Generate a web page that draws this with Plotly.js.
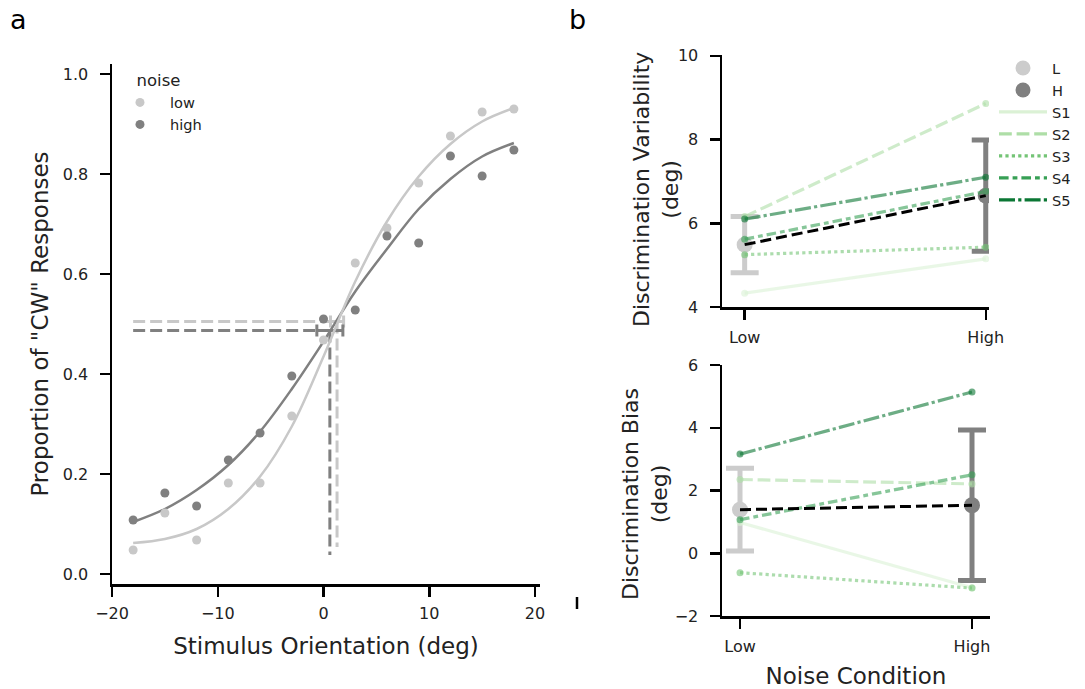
<!DOCTYPE html>
<html><head><meta charset="utf-8">
<script src="https://cdn.plot.ly/plotly-3.0.1.min.js"></script>
<style>html,body{margin:0;padding:0;background:#fff;} #chart{width:1085px;height:689px;}</style>
</head><body><div id="chart"></div>
<script>
// ---------- Panel a data ----------
const orientations = [-18, -15, -12, -9, -6, -3, 0, 3, 6, 9, 12, 15, 18];
const propLow  = [0.048, 0.122, 0.068, 0.182, 0.182, 0.316, 0.468, 0.622, 0.692, 0.782, 0.876, 0.924, 0.930];
const propHigh = [0.108, 0.162, 0.136, 0.228, 0.282, 0.396, 0.510, 0.528, 0.676, 0.662, 0.836, 0.796, 0.848];
const fitX     = [-18, -15, -12, -9, -6, -3, 0, 3, 6, 9, 12, 15, 18];
const fitLow   = [0.062, 0.070, 0.090, 0.130, 0.195, 0.295, 0.435, 0.585, 0.705, 0.795, 0.860, 0.905, 0.932];
const fitHigh  = [0.104, 0.130, 0.168, 0.218, 0.285, 0.370, 0.465, 0.565, 0.650, 0.730, 0.790, 0.835, 0.862];
const noiseLevels = ['low', 'high'];
const pseX     = [1.28, 0.60];
const pseErr   = [0.62, 1.23];
const pseLevel = [0.505, 0.487];
const pseFloor = [0.054, 0.038];
const crossStart = -18;

// ---------- Panel b data ----------
const conditions = ['Low', 'High'];
const condX = [0, 1];
const subjects = ['S1', 'S2', 'S3', 'S4', 'S5'];
const variability = [
  [4.33, 5.15],
  [6.16, 8.86],
  [5.25, 5.43],
  [5.62, 6.76],
  [6.10, 7.10]
];
const varMean = [5.49, 6.66];
const varErr  = [0.67, 1.33];
const bias = [
  [0.98, -1.10],
  [2.35, 2.21],
  [-0.62, -1.11],
  [1.07, 2.50],
  [3.16, 5.14]
];
const biasMean = [1.39, 1.53];
const biasErr  = [1.32, 2.40];

// ---------- styles ----------
const F = 'DejaVu Sans';
const grayColors = ['#c8c8c8', '#808080'];
const condColors = ['#cccccc', '#808080'];
const subjRGB = [[219,241,213],[174,222,167],[116,196,118],[55,160,85],[11,119,52]];
const subjDash = ['solid', '12.8px,4.8px', '3.2px,3.2px', '9.6px,4px,4.8px,4px', '16px,3.2px,3.2px,3.2px'];
const rgba = (c, a) => `rgba(${c[0]},${c[1]},${c[2]},${a})`;

const traces = [];

// Panel a: crosshair
for (let i = 0; i < 2; i++) {
  traces.push({x: [crossStart, pseX[i]], y: [pseLevel[i], pseLevel[i]], mode: 'lines', xaxis: 'x', yaxis: 'y',
    line: {color: grayColors[i], width: 3, dash: '12px,5px'}, showlegend: false, hoverinfo: 'skip'});
  traces.push({x: [pseX[i], pseX[i]], y: [pseLevel[i], pseFloor[i]], mode: 'lines', xaxis: 'x', yaxis: 'y',
    line: {color: grayColors[i], width: 3, dash: '12px,5px'}, showlegend: false, hoverinfo: 'skip'});
  traces.push({x: [pseX[i]], y: [pseLevel[i]], mode: 'markers', xaxis: 'x', yaxis: 'y',
    marker: {size: 1, opacity: 0}, showlegend: false, hoverinfo: 'skip',
    error_x: {type: 'data', array: [pseErr[i]], color: grayColors[i], thickness: 3, width: 6}});
}
// Panel a: fits
traces.push({x: fitX, y: fitHigh, mode: 'lines', line: {color: grayColors[1], width: 2.5, shape: 'spline'}, xaxis: 'x', yaxis: 'y', showlegend: false});
traces.push({x: fitX, y: fitLow, mode: 'lines', line: {color: grayColors[0], width: 2.5, shape: 'spline'}, xaxis: 'x', yaxis: 'y', showlegend: false});
// Panel a: data points
[propLow, propHigh].forEach((p, i) => {
  traces.push({x: orientations, y: p, mode: 'markers', name: noiseLevels[i], legend: 'legend2',
    marker: {color: grayColors[i], size: 9}, xaxis: 'x', yaxis: 'y'});
});

// Panel b: helper
function panelB(values, mean, err, xa, ya) {
  for (let c = 0; c < 2; c++) {
    traces.push({x: [condX[c]], y: [mean[c]], mode: 'markers', xaxis: xa, yaxis: ya, showlegend: false,
      marker: {color: condColors[c], size: 16},
      error_y: {type: 'data', array: [err[c]], color: condColors[c], thickness: 5, width: 14}});
  }
  values.forEach((v, s) => {
    traces.push({x: condX, y: v, mode: 'lines+markers', xaxis: xa, yaxis: ya, showlegend: false,
      line: {color: rgba(subjRGB[s], 0.6), width: 3.2, dash: subjDash[s]},
      marker: {color: rgba(subjRGB[s], 0.6), size: 7}});
  });
  traces.push({x: condX, y: mean, mode: 'lines', xaxis: xa, yaxis: ya, showlegend: false,
    line: {color: '#000', width: 3, dash: '11px,5px'}});
}
panelB(variability, varMean, varErr, 'x2', 'y2');
panelB(bias, biasMean, biasErr, 'x3', 'y3');

// Legend-only entries for panel b
['L', 'H'].forEach((n, c) => {
  traces.push({x: [null], y: [null], mode: 'markers', name: n, xaxis: 'x2', yaxis: 'y2', legend: 'legend',
    marker: {color: condColors[c], size: 15}});
});
subjects.forEach((n, s) => {
  traces.push({x: [null], y: [null], mode: 'lines', name: n, xaxis: 'x2', yaxis: 'y2', legend: 'legend',
    line: {color: rgba(subjRGB[s], 1), width: 3.2, dash: subjDash[s]}});
});

const W = 1085, H = 689;
const px = v => v / W, py = v => 1 - v / H;
const tickFont = {family: F, size: 16, color: '#222'};
function ax(extra) {
  return Object.assign({showline: true, linecolor: '#000', linewidth: 2.5, ticks: 'outside', ticklen: 10,
    tickwidth: 2.5, tickcolor: '#000', showgrid: false, zeroline: false, automargin: false, fixedrange: true,
    tickfont: tickFont}, extra);
}
const titleFont = {family: F, size: 23, color: '#222'};
const legFont = {family: F, size: 14.6, color: '#222'};

const layout = {
  width: W, height: H, margin: {l: 0, r: 0, t: 0, b: 0},
  paper_bgcolor: '#fff', plot_bgcolor: 'rgba(0,0,0,0)',
  font: {family: F, size: 14, color: '#222'},
  hovermode: false,
  xaxis: ax({domain: [px(112), px(540)], range: [-20, 20.47], anchor: 'y',
    tickvals: [-20, -10, 0, 10, 20], ticklabelstandoff: 3,
    title: {text: 'Stimulus Orientation (deg)', font: titleFont, standoff: 16}}),
  yaxis: ax({domain: [py(584), py(64)], range: [-0.02, 1.02], anchor: 'x',
    tickvals: [0, 0.2, 0.4, 0.6, 0.8, 1.0], tickformat: '.1f', ticklabelstandoff: 8,
    title: {text: 'Proportion of "CW" Responses', font: titleFont, standoff: 8}}),
  xaxis2: ax({domain: [px(722), px(989)], range: [-0.094, 1.0135], anchor: 'y2',
    tickvals: condX, ticktext: conditions, ticklabelstandoff: 4}),
  yaxis2: ax({domain: [py(307), py(55)], range: [4, 10.02], anchor: 'x2',
    tickvals: [4, 6, 8, 10], ticklabelstandoff: 8}),
  xaxis3: ax({domain: [px(722), px(990)], range: [-0.0776, 1.0776], anchor: 'y3',
    tickvals: condX, ticktext: conditions, ticklabelstandoff: 4,
    title: {text: 'Noise Condition', font: titleFont, standoff: 14}}),
  yaxis3: ax({domain: [py(616), py(365)], range: [-2, 6.0], anchor: 'x3',
    tickvals: [-2, 0, 2, 4, 6], ticklabelstandoff: 8}),
  legend: {x: px(994), y: py(52), xanchor: 'left', yanchor: 'top', bgcolor: 'rgba(0,0,0,0)',
    font: legFont, itemwidth: 48, tracegroupgap: 0},
  legend2: {x: px(110), y: py(65), xanchor: 'left', yanchor: 'top', bgcolor: 'rgba(0,0,0,0)',
    font: legFont, itemwidth: 50,
    title: {text: 'noise', side: 'top center', font: {family: F, size: 16.5, color: '#222'}}},
  annotations: [
    {text: 'a', x: px(18), y: py(20), xref: 'paper', yref: 'paper', showarrow: false, xanchor: 'center', yanchor: 'middle', font: {family: F, size: 27, color: '#000'}},
    {text: 'b', x: px(577), y: py(20), xref: 'paper', yref: 'paper', showarrow: false, xanchor: 'center', yanchor: 'middle', font: {family: F, size: 27, color: '#000'}},
    {text: 'Discrimination Variability<br>(deg)', textangle: -90, x: px(656), y: py(190), xref: 'paper', yref: 'paper',
      showarrow: false, xanchor: 'center', yanchor: 'middle', font: {family: F, size: 22, color: '#222'}},
    {text: 'Discrimination Bias<br>(deg)', textangle: -90, x: px(645), y: py(494), xref: 'paper', yref: 'paper',
      showarrow: false, xanchor: 'center', yanchor: 'middle', font: {family: F, size: 22, color: '#222'}}
  ],
  shapes: [
    {type: 'line', xref: 'paper', yref: 'paper', x0: px(577), x1: px(577), y0: py(597), y1: py(609), line: {color: '#000', width: 2.5}}
  ]
};

Plotly.newPlot('chart', traces, layout, {staticPlot: true, displayModeBar: false});
</script></body></html>
